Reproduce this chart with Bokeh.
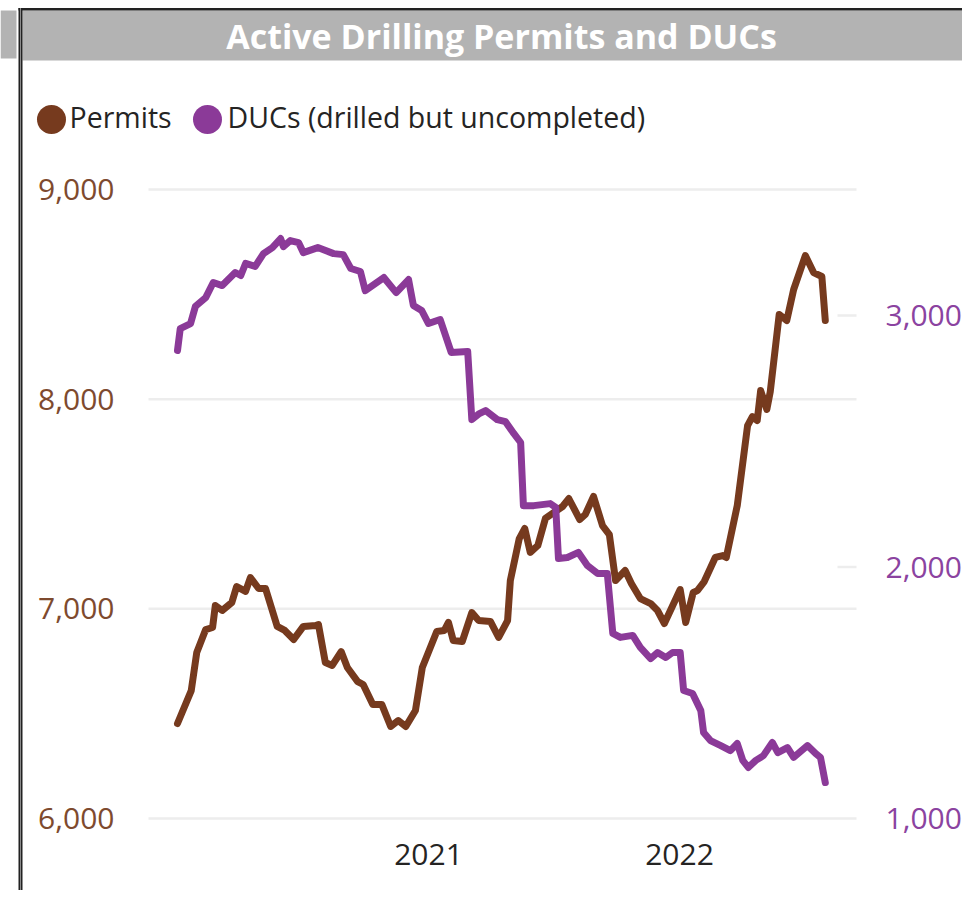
import pandas as pd
from bokeh.plotting import figure
from bokeh.models import Range1d
from bokeh.core.properties import value
from bokeh.embed import file_html
from bokeh.resources import INLINE

# ---------------- data ----------------
title_text = "Active Drilling Permits and DUCs"
series_names = ["Permits", "DUCs (drilled but uncompleted)"]
permit_ticks = [6000, 7000, 8000, 9000]
duc_ticks = [1000, 2000, 3000]
year_ticks = ["2021-01-01", "2022-01-01"]
year_labels = ["2021", "2022"]

permit_dates = [
    "2020-01-02", "2020-01-22", "2020-01-30", "2020-02-12", "2020-02-22", "2020-02-26",
    "2020-03-07", "2020-03-21", "2020-03-28", "2020-04-10", "2020-04-17", "2020-04-29",
    "2020-05-09", "2020-05-26", "2020-06-06", "2020-06-19", "2020-07-03", "2020-07-21",
    "2020-07-25", "2020-08-04", "2020-08-14", "2020-08-27", "2020-09-05", "2020-09-20",
    "2020-09-28", "2020-10-12", "2020-10-25", "2020-11-07", "2020-11-18", "2020-11-29",
    "2020-12-13", "2020-12-23", "2021-01-13", "2021-01-24", "2021-01-30", "2021-02-06",
    "2021-02-19", "2021-03-05", "2021-03-15", "2021-04-01", "2021-04-13", "2021-04-26",
    "2021-04-30", "2021-05-13", "2021-05-21", "2021-05-29", "2021-06-09", "2021-06-20",
    "2021-07-02", "2021-07-15", "2021-07-24", "2021-08-09", "2021-08-17", "2021-08-29",
    "2021-09-11", "2021-09-21", "2021-09-30", "2021-10-14", "2021-10-23", "2021-11-05",
    "2021-11-20", "2021-11-30", "2021-12-10", "2022-01-02", "2022-01-10", "2022-01-21",
    "2022-01-27", "2022-02-06", "2022-02-22", "2022-03-05", "2022-03-10", "2022-03-26",
    "2022-04-10", "2022-04-17", "2022-04-24", "2022-04-29", "2022-05-08", "2022-05-13",
    "2022-05-26", "2022-06-06", "2022-06-16", "2022-07-03", "2022-07-15", "2022-07-27",
    "2022-08-01",
]
permit_values = [
    6453, 6610, 6792, 6901, 6911, 7016,
    6992, 7030, 7106, 7083, 7149, 7097,
    7097, 6916, 6897, 6854, 6916, 6920,
    6925, 6744, 6730, 6796, 6720, 6653,
    6639, 6544, 6544, 6439, 6467, 6439,
    6515, 6720, 6892, 6897, 6935, 6849,
    6844, 6982, 6944, 6940, 6864, 6944,
    7135, 7335, 7383, 7269, 7302, 7431,
    7459, 7488, 7526, 7426, 7450, 7536,
    7397, 7354, 7135, 7183, 7121, 7049,
    7025, 6992, 6930, 7092, 6935, 7078,
    7087, 7130, 7245, 7254, 7245, 7493,
    7874, 7917, 7898, 8041, 7951, 8036,
    8404, 8375, 8523, 8685, 8604, 8585,
    8375,
]

duc_dates = [
    "2020-01-02", "2020-01-06", "2020-01-21", "2020-01-28", "2020-02-12", "2020-02-23",
    "2020-03-07", "2020-03-26", "2020-04-03", "2020-04-10", "2020-04-24", "2020-05-06",
    "2020-05-19", "2020-05-31", "2020-06-04", "2020-06-14", "2020-06-26", "2020-07-03",
    "2020-07-24", "2020-08-16", "2020-08-30", "2020-09-10", "2020-09-24", "2020-10-01",
    "2020-10-28", "2020-11-15", "2020-12-03", "2020-12-10", "2020-12-22", "2021-01-01",
    "2021-01-18", "2021-02-03", "2021-02-27", "2021-03-05", "2021-03-16", "2021-03-25",
    "2021-04-11", "2021-04-23", "2021-05-05", "2021-05-15", "2021-05-19", "2021-06-03",
    "2021-06-27", "2021-07-05", "2021-07-09", "2021-07-22", "2021-08-07", "2021-08-20",
    "2021-09-04", "2021-09-18", "2021-09-26", "2021-10-07", "2021-10-25", "2021-11-05",
    "2021-11-20", "2021-11-30", "2021-12-12", "2021-12-22", "2022-01-02", "2022-01-07",
    "2022-01-20", "2022-02-01", "2022-02-05", "2022-02-15", "2022-03-02", "2022-03-16",
    "2022-03-26", "2022-04-03", "2022-04-11", "2022-04-22", "2022-05-03", "2022-05-16",
    "2022-05-24", "2022-06-07", "2022-06-16", "2022-07-06", "2022-07-18", "2022-07-25",
    "2022-08-01",
]
duc_values = [
    2861, 2948, 2968, 3036, 3071, 3131,
    3119, 3171, 3159, 3207, 3195, 3246,
    3270, 3306, 3274, 3298, 3290, 3250,
    3270, 3246, 3242, 3187, 3175, 3099,
    3151, 3091, 3143, 3040, 3020, 2968,
    2984, 2853, 2857, 2586, 2610, 2622,
    2586, 2578, 2531, 2495, 2244, 2244,
    2252, 2237, 2034, 2038, 2058, 2006,
    1974, 1974, 1736, 1720, 1728, 1680,
    1636, 1660, 1640, 1660, 1660, 1509,
    1497, 1429, 1342, 1310, 1290, 1270,
    1298, 1231, 1203, 1231, 1250, 1302,
    1262, 1282, 1243, 1290, 1258, 1243,
    1143,
]

# ---------------- style / layout ----------------
FONT = "Open Sans"
BROWN = "#763A1E"
PURPLE = "#8B3A98"
series_colors = [BROWN, PURPLE]
TEXT_DARK = "#252423"
BAR_GRAY = "#B3B3B3"
BORDER = "#222222"
GRID = "#EDEDED"

W, H = 962, 890
PLOT_LEFT, PLOT_RIGHT = 148, 856          # plot area, canvas px
X_2021, PX_PER_DAY = 428, 251 / 365        # where the first year tick sits, and scale
Y_PERMIT_LO, Y_PERMIT_HI = 818, 189        # canvas px of the 6,000 / 9,000 ticks
Y_DUC_LO, Y_DUC_HI = 818, 315              # canvas px of the 1,000 / 3,000 ticks

# ranges: default ranges are canvas px; data ranges are set so the plot area matches
date0 = pd.Timestamp(year_ticks[0])
x_date_start = date0 - pd.Timedelta(days=X_2021 / PX_PER_DAY)
x_date_end = date0 + pd.Timedelta(days=(W - X_2021) / PX_PER_DAY)

perm_lo, perm_hi = permit_ticks[0], permit_ticks[-1]
perm_per_px = (perm_hi - perm_lo) / (Y_PERMIT_LO - Y_PERMIT_HI)
perm_start = perm_lo - (H - Y_PERMIT_LO) * perm_per_px
perm_end = perm_hi + Y_PERMIT_HI * perm_per_px

duc_lo, duc_ref = duc_ticks[0], duc_ticks[-1]
duc_per_px = (duc_ref - duc_lo) / (Y_DUC_LO - Y_DUC_HI)
duc_start = duc_lo - (H - Y_DUC_LO) * duc_per_px
duc_end = duc_ref + Y_DUC_HI * duc_per_px

p = figure(width=W, height=H, x_range=Range1d(0, W), y_range=Range1d(H, 0),
           x_axis_location=None, y_axis_location=None,
           output_backend="svg", toolbar_location=None, min_border=0)
p.grid.visible = False
p.outline_line_color = None
p.background_fill_color = "white"
p.border_fill_color = "white"
p.extra_x_ranges = {"date": Range1d(x_date_start, x_date_end)}
p.extra_y_ranges = {"permits": Range1d(perm_start, perm_end),
                    "duc": Range1d(duc_start, duc_end)}

# ---- frame decorations (title bar, borders) ----
p.quad(left=[0], right=[16], top=[10], bottom=[58], fill_color=BAR_GRAY, line_color=None)
p.quad(left=[22], right=[W], top=[10], bottom=[60], fill_color=BAR_GRAY, line_color=None)
p.quad(left=[18], right=[W], top=[7.5], bottom=[10], fill_color=BORDER, line_color=None)
p.quad(left=[18, 19.5, 20.5], right=[19.5, 20.5, 22], top=[7.5] * 3, bottom=[H] * 3,
       fill_color=[BORDER, "#8a8a8a", BORDER], line_color=None)
p.text(x=[501], y=[35], text=[title_text], text_align="center", text_baseline="middle",
       text_color="white", text_font=value(FONT), text_font_size="34px", text_font_style="bold")

# ---- legend ----
p.scatter(x=[51, 207], y=[119, 119], size=29, marker="circle", fill_color=series_colors,
          line_color=None)
p.text(x=[69, 227], y=[116, 116], text=series_names, text_align="left",
       text_baseline="middle", text_color=TEXT_DARK, text_font=value(FONT),
       text_font_size="28.5px")

# ---- gridlines ----
p.segment(x0=[PLOT_LEFT] * len(permit_ticks), x1=[PLOT_RIGHT] * len(permit_ticks),
          y0=permit_ticks, y1=permit_ticks, y_range_name="permits",
          line_color=GRID, line_width=2.5)
p.segment(x0=[837] * (len(duc_ticks) - 1), x1=[PLOT_RIGHT] * (len(duc_ticks) - 1),
          y0=duc_ticks[1:], y1=duc_ticks[1:], y_range_name="duc",
          line_color=GRID, line_width=2.5)

# ---- axis tick labels ----
p.text(x=[114] * len(permit_ticks), y=permit_ticks, text=[f"{v:,}" for v in permit_ticks],
       y_range_name="permits", text_align="right", text_baseline="middle",
       text_color="#7E4A2E", text_font=value(FONT), text_font_size="30px")
p.text(x=[885] * len(duc_ticks), y=duc_ticks, text=[f"{v:,}" for v in duc_ticks],
       y_range_name="duc", text_align="left", text_baseline="middle",
       text_color="#8B43A0", text_font=value(FONT), text_font_size="30px")
p.text(x=pd.to_datetime(year_ticks), y=[854] * len(year_ticks), text=year_labels,
       x_range_name="date", text_align="center", text_baseline="middle",
       text_color=TEXT_DARK, text_font=value(FONT), text_font_size="30px")

# ---- series ----
p.line(x=pd.to_datetime(permit_dates), y=permit_values, x_range_name="date",
       y_range_name="permits", line_color=BROWN, line_width=7,
       line_join="round", line_cap="round")
p.line(x=pd.to_datetime(duc_dates), y=duc_values, x_range_name="date",
       y_range_name="duc", line_color=PURPLE, line_width=7,
       line_join="round", line_cap="round")

open("out.html", "w").write(file_html(p, INLINE))
